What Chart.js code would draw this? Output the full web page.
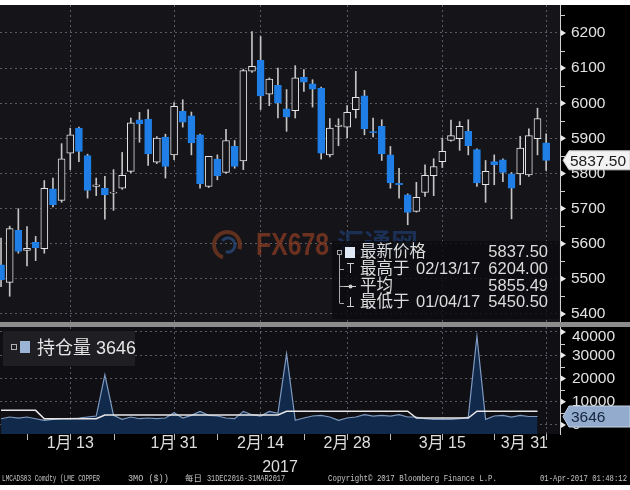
<!DOCTYPE html>
<html>
<head>
<meta charset="utf-8">
<script src="https://cdn.jsdelivr.net/npm/chart.js@4.4.1/dist/chart.umd.min.js"></script>
<style>
html, body { margin: 0; padding: 0; background: #fff; }
#wrap { position: relative; width: 630px; height: 490px; background: #fff; }
#priceChart { position: absolute; left: 0; top: 5px; background: #000; }
#oiChart { position: absolute; left: 0; top: 322px; background: #000; }
</style>
</head>
<body>
<div id="wrap">
    <canvas id="priceChart" width="630" height="317"></canvas>
    <canvas id="oiChart" width="630" height="163"></canvas>
</div>
<script>
// LME 3个月铜 日K线 (2017-01-03 ~ 2017-03-31, 64个交易日)
const openP  = [5540, 5490, 5638, 5581, 5604, 5586, 5756, 5723, 5858, 5929, 5851, 5763, 5758, 5744, 5758, 5806,
                5953, 5955, 5832, 5904, 5853, 5977, 5964, 5910, 5763, 5841, 5803, 5877, 5836, 6091, 6122, 6026,
                6051, 5984, 5979, 6074, 6055, 6043, 5853, 5934, 5932, 5982, 6021, 5919, 5934, 5853, 5772, 5739,
                5692, 5746, 5794, 5834, 5894, 5899, 5920, 5868, 5768, 5834, 5839, 5799, 5799, 5796, 5899, 5887];
const highP  = [5616, 5650, 5700, 5649, 5621, 5780, 5787, 5885, 5929, 5932, 5855, 5787, 5792, 5811, 5860, 5958,
                5974, 5982, 5905, 5912, 6002, 6010, 5975, 5912, 5849, 5853, 5926, 5894, 6097, 6204, 6190, 6072,
                6100, 6039, 6107, 6096, 6067, 6046, 5956, 5956, 5993, 6091, 6037, 5958, 5953, 5877, 5815, 5742,
                5775, 5825, 5842, 5901, 5952, 5948, 5953, 5870, 5837, 5853, 5842, 5803, 5906, 5927, 5986, 5913];
const lowP   = [5478, 5450.5, 5573, 5537, 5552, 5573, 5705, 5718, 5811, 5834, 5730, 5737, 5670, 5695, 5755, 5802,
                5889, 5823, 5828, 5787, 5839, 5932, 5853, 5758, 5760, 5782, 5800, 5815, 5811, 6088, 5982, 5993,
                5958, 5920, 5958, 6034, 5989, 5841, 5847, 5879, 5901, 5958, 5910, 5904, 5837, 5758, 5730, 5654,
                5690, 5735, 5737, 5817, 5892, 5866, 5853, 5763, 5718, 5768, 5777, 5671, 5768, 5792, 5853, 5809];
const closeP = [5497, 5643, 5578, 5587, 5589, 5758, 5711, 5842, 5910, 5863, 5752, 5768, 5739, 5747, 5795, 5944,
                5941, 5856, 5901, 5820, 5991, 5946, 5887, 5771, 5849, 5794, 5894, 5820, 6093, 6105, 6021, 6069,
                6001, 5961, 6072, 6060, 6040, 5858, 5929, 5938, 5974, 6017, 5927, 5916, 5856, 5773, 5768, 5689,
                5732, 5795, 5820, 5863, 5908, 5934, 5879, 5773, 5806, 5825, 5803, 5758, 5872, 5908, 5956, 5837.5];

// 持仓量 (下方面板)
const oiValues = [2700, 3430, 3000, 3430, 2700, 2000, 2430, 2700, 2700, 3000, 3430, 3860, 21600, 4150, 2430, 3430,
                  2700, 3000, 2700, 3000, 5290, 3000, 4150, 5860, 4150, 3860, 3000, 2700, 5860, 4430, 3860, 5860,
                  5000, 30600, 2000, 3000, 3860, 4150, 3430, 2000, 3000, 3430, 4430, 3860, 4150, 3860, 4430, 3430,
                  3430, 2700, 2430, 2430, 2430, 2700, 3430, 38200, 2430, 3860, 4150, 3430, 4150, 3650, 3646];
const oiLevel  = [6300, 6300, 6300, 6300, 6300, 2700, 2700, 2700, 2700, 2700, 2700, 2700, 4300, 4300, 4300, 4300,
                  4300, 4300, 4300, 4300, 4300, 4300, 4300, 4300, 4300, 4300, 4300, 4300, 4300, 4300, 4300, 4300,
                  4300, 5900, 5900, 5900, 5900, 5900, 5900, 5900, 5900, 5900, 5900, 5900, 5900, 5900, 5900, 5900,
                  3000, 3000, 3000, 3000, 3000, 3000, 3000, 5900, 5900, 5900, 5900, 5900, 5900, 5900, 5900];

const priceTicks = [5400, 5500, 5600, 5700, 5800, 5900, 6000, 6100, 6200];
const oiTicks = [0, 10000, 20000, 30000, 40000];
const dateTickIdx = [8, 20, 30, 40, 51, 63];
const dateTickLabels = ['1月 13', '1月 31', '2月 14', '2月 28', '3月 15', '3月 31'];

const FONT = "'Liberation Sans', 'Noto Sans CJK SC', sans-serif";
const GRID = 'rgba(150, 150, 160, 0.55)';
const BG_PRICE = '#141419';
const BG_OI = '#0f0f14';
const UP_LINE = '#e4e4e4';
const DOWN_FILL = '#1f7fe6';
const WICK = '#c4c4c4';
const AXIS_TXT = '#e2e2e2';

function xScaleOpts(h) {
    return {
        type: 'linear',
        min: -0.12,
        max: 64.6,
        offset: false,
        afterBuildTicks: s => { s.ticks = dateTickIdx.map(v => ({ value: v })); },
        ticks: { display: false },
        grid: { color: GRID, drawTicks: false, offset: false },
        border: { display: false, dash: [2, 3] },
        afterFit: s => { s.height = h; }
    };
}

function tri(ctx, x, y) {
    ctx.beginPath();
    ctx.moveTo(x, y - 3);
    ctx.lineTo(x + 5, y);
    ctx.lineTo(x, y + 3);
    ctx.closePath();
    ctx.fill();
}

function tagBox(ctx, x, y, w, h, fill, stroke) {
    ctx.beginPath();
    ctx.moveTo(x, y);
    ctx.lineTo(x + 6, y - h / 2);
    ctx.lineTo(x + w, y - h / 2);
    ctx.lineTo(x + w, y + h / 2);
    ctx.lineTo(x + 6, y + h / 2);
    ctx.closePath();
    ctx.fillStyle = fill;
    ctx.fill();
    ctx.strokeStyle = stroke;
    ctx.lineWidth = 1;
    ctx.stroke();
}

function drawWatermark(ctx) {
    ctx.save();
    ctx.globalAlpha = 0.75;
    // 圆形标志
    ctx.lineWidth = 4;
    ctx.strokeStyle = '#7a3a22';
    ctx.beginPath();
    ctx.arc(227, 240, 13, Math.PI * 0.6, Math.PI * 2.1);
    ctx.stroke();
    ctx.strokeStyle = '#2b4c7e';
    ctx.lineWidth = 3;
    ctx.beginPath();
    ctx.arc(228, 240, 7, Math.PI * 1.2, Math.PI * 2.6);
    ctx.stroke();
    const g = ctx.createLinearGradient(256, 0, 330, 0);
    g.addColorStop(0, '#8c6a2c');
    g.addColorStop(1, '#8a3a22');
    ctx.fillStyle = g;
    ctx.font = 'bold 31px ' + FONT;
    ctx.textBaseline = 'middle';
    ctx.fillText('FX678', 256, 241, 73);
    ctx.fillStyle = '#1d3a68';
    ctx.font = 'bold 27px ' + FONT;
    ctx.fillText('汇通网', 337, 241, 82);
    ctx.restore();
}

const pricePlugin = {
    id: 'priceDecor',
    beforeDraw(chart) {
        const { ctx, chartArea: a } = chart;
        ctx.save();
        ctx.fillStyle = BG_PRICE;
        ctx.fillRect(a.left, a.top, a.right - a.left, a.bottom - a.top);
        ctx.restore();
    },
    beforeDatasetsDraw(chart) {
        drawWatermark(chart.ctx);
    },
    afterDraw(chart) {
        const { ctx, chartArea: a, scales: { y } } = chart;
        ctx.save();
        // 轴刻度标记
        ctx.fillStyle = '#ececec';
        priceTicks.forEach(v => tri(ctx, a.right + 1, y.getPixelForValue(v)));
        ctx.strokeStyle = '#cfcfcf';
        ctx.lineWidth = 1;
        for (let v = 5450; v <= 6250; v += 100) {
            const py = Math.round(y.getPixelForValue(v)) + 0.5;
            ctx.beginPath();
            ctx.moveTo(a.right + 1, py);
            ctx.lineTo(a.right + 5, py);
            ctx.stroke();
        }

        // 最新价标签
        const last = closeP[closeP.length - 1];
        const ly = y.getPixelForValue(last);
        tagBox(ctx, a.right + 3, ly, 67, 19, '#f2f2f2', '#cfcfcf');
        ctx.fillStyle = '#1a1a1a';
        ctx.font = '15.5px ' + FONT;
        ctx.textBaseline = 'middle';
        ctx.fillText(last.toFixed(2), 570, ly + 1);

        // 图例框
        ctx.fillStyle = 'rgba(12, 12, 16, 0.82)';
        ctx.fillRect(332, 236, 227, 78);
        const rows = [247.5, 264, 281, 297.7];
        ctx.strokeStyle = '#a8a8a8';
        ctx.beginPath();
        ctx.moveTo(339.5, 250); ctx.lineTo(339.5, 298);
        rows.slice(1).forEach(r => { ctx.moveTo(339.5, Math.round(r) + 0.5); ctx.lineTo(344, Math.round(r) + 0.5); });
        ctx.stroke();
        ctx.strokeRect(337.5, 245.5, 4, 4);
        ctx.fillStyle = '#dfe8f5';
        ctx.fillRect(345, 242, 10, 11);
        ctx.strokeStyle = '#cfcfcf';
        ctx.beginPath();
        ctx.moveTo(347, 258.5); ctx.lineTo(354, 258.5);
        ctx.moveTo(350.5, 258.5); ctx.lineTo(350.5, 268);
        ctx.moveTo(344, 281.5); ctx.lineTo(356, 281.5);
        ctx.moveTo(350.5, 292); ctx.lineTo(350.5, 301);
        ctx.moveTo(347, 301.5); ctx.lineTo(354, 301.5);
        ctx.stroke();
        ctx.fillStyle = '#cfcfcf';
        ctx.beginPath(); ctx.arc(350.5, 281.5, 2, 0, Math.PI * 2); ctx.fill();

        ctx.fillStyle = '#dcdcdc';
        ctx.font = '16.5px ' + FONT;
        ctx.textAlign = 'left';
        ctx.fillText('最新价格', 360, rows[0]);
        ctx.fillText('最高于', 360, rows[1]);
        ctx.fillText('02/13/17', 416, rows[1]);
        ctx.fillText('平均', 360, rows[2]);
        ctx.fillText('最低于', 360, rows[3]);
        ctx.fillText('01/04/17', 416, rows[3]);
        ctx.textAlign = 'right';
        ctx.fillText('5837.50', 548, rows[0]);
        ctx.fillText('6204.00', 548, rows[1]);
        ctx.fillText('5855.49', 548, rows[2]);
        ctx.fillText('5450.50', 548, rows[3]);
        ctx.restore();
    }
};

const isUp = openP.map((o, i) => closeP[i] >= o);

new Chart(document.getElementById('priceChart'), {
    type: 'bar',
    data: {
        datasets: [
            {
                data: openP.map((o, i) => ({ x: i, y: [o, closeP[i]] })),
                grouped: false,
                barThickness: 7,
                backgroundColor: isUp.map(u => u ? BG_PRICE : DOWN_FILL),
                borderColor: isUp.map(u => u ? UP_LINE : DOWN_FILL),
                borderWidth: 1,
                borderSkipped: false,
                order: 1
            },
            {
                data: lowP.map((l, i) => ({ x: i, y: [l, highP[i]] })),
                grouped: false,
                barThickness: 1,
                backgroundColor: WICK,
                borderWidth: 0,
                order: 2
            }
        ]
    },
    options: {
        responsive: false,
        animation: false,
        layout: { padding: 0 },
        plugins: { legend: { display: false }, tooltip: { enabled: false } },
        scales: {
            x: xScaleOpts(0),
            y: {
                position: 'right',
                min: 5377.2,
                max: 6279.7,
                afterBuildTicks: s => { s.ticks = priceTicks.map(v => ({ value: v })); },
                ticks: {
                    color: AXIS_TXT,
                    padding: 11,
                    font: { size: 15.5, family: FONT },
                    callback: v => String(v)
                },
                grid: { color: GRID, drawTicks: false },
                border: { display: true, color: '#d0d0d0', dash: [2, 3] },
                afterFit: s => { s.width = 70; s.paddingTop = 0; s.paddingBottom = 0; }
            }
        }
    },
    plugins: [pricePlugin]
});

const oiPlugin = {
    id: 'oiDecor',
    beforeDraw(chart) {
        const { ctx, chartArea: a } = chart;
        ctx.save();
        ctx.fillStyle = '#8c8c8c';
        ctx.fillRect(0, 0, 630, 5);
        ctx.fillStyle = BG_OI;
        ctx.fillRect(a.left, a.top, a.right - a.left, a.bottom - a.top);
        ctx.restore();
    },
    afterDraw(chart) {
        const { ctx, chartArea: a, scales: { x, y } } = chart;
        ctx.save();
        ctx.textBaseline = 'middle';

        // 右轴
        ctx.fillStyle = AXIS_TXT;
        ctx.font = '15.5px ' + FONT;
        oiTicks.forEach(v => {
            const py = y.getPixelForValue(v);
            ctx.fillStyle = '#ececec';
            tri(ctx, a.right + 1, Math.max(py, a.top + 4));
            ctx.fillStyle = AXIS_TXT;
            ctx.fillText(String(v), 572, Math.max(py, a.top + 10));
        });
        ctx.strokeStyle = '#cfcfcf';
        [5000, 15000, 25000, 35000].forEach(v => {
            const py = Math.round(y.getPixelForValue(v)) + 0.5;
            ctx.beginPath();
            ctx.moveTo(a.right + 1, py);
            ctx.lineTo(a.right + 5, py);
            ctx.stroke();
        });

        // 最新持仓量标签
        const last = oiValues[oiValues.length - 1];
        const ly = y.getPixelForValue(last);
        tagBox(ctx, a.right + 3, ly, 67, 21, '#93abcd', '#c4d2e6');
        ctx.fillStyle = '#14243c';
        ctx.fillText(String(last), 571, ly + 1);

        // 图例
        ctx.fillStyle = '#1e1e23';
        ctx.fillRect(3, 9, 132, 35);
        ctx.strokeStyle = '#b0b0b0';
        ctx.strokeRect(11.5, 22.5, 5, 5);
        ctx.fillStyle = '#9cb4d6';
        ctx.fillRect(20, 19, 10, 12);
        ctx.fillStyle = '#e6e6e6';
        ctx.font = '18px ' + FONT;
        ctx.fillText('持仓量 3646', 37, 27);

        // 日期标签
        ctx.font = '16px ' + FONT;
        ctx.fillStyle = '#dedede';
        ctx.textAlign = 'center';
        dateTickIdx.forEach((idx, i) => {
            const px = x.getPixelForValue(idx);
            const w = ctx.measureText(dateTickLabels[i]).width;
            ctx.fillText(dateTickLabels[i], Math.min(px, a.right - 12 - w / 2), 122);
        });
        ctx.fillText('2017', 280, 146);

        // 下方刻度
        ctx.strokeStyle = '#bdbdbd';
        ctx.beginPath();
        dateTickIdx.concat([3, 13, 25, 35, 45, 57]).forEach(idx => {
            const px = Math.round(x.getPixelForValue(idx)) + 0.5;
            ctx.moveTo(px, a.bottom);
            ctx.lineTo(px, a.bottom + 6);
        });
        ctx.stroke();

        // 页脚
        ctx.textAlign = 'left';
        ctx.fillStyle = '#c4c4c4';
        ctx.font = "8.5px 'Liberation Mono', 'Noto Sans CJK SC', monospace";
        const fy = 157;
        ctx.fillText('LMCADS03 Comdty (LME COPPER', 2, fy, 98);
        ctx.fillText('3MO ($))', 128, fy, 42);
        ctx.fillText('每日', 185, fy, 17);
        ctx.fillText('31DEC2016-31MAR2017', 207, fy, 78);
        ctx.fillText('Copyright© 2017 Bloomberg Finance L.P.', 328, fy, 169);
        ctx.fillText('01-Apr-2017 01:48:12', 540, fy, 87);
        ctx.restore();
    }
};

new Chart(document.getElementById('oiChart'), {
    type: 'line',
    data: {
        datasets: [
            {
                data: oiLevel.map((v, i) => ({ x: i, y: v })),
                borderColor: '#e8e8e8',
                borderWidth: 1.5,
                pointRadius: 0,
                fill: false,
                tension: 0
            },
            {
                data: oiValues.map((v, i) => ({ x: i, y: v })),
                borderColor: '#7f9bc2',
                borderWidth: 1.2,
                backgroundColor: '#11294a',
                pointRadius: 0,
                fill: 'start',
                tension: 0
            }
        ]
    },
    options: {
        responsive: false,
        animation: false,
        layout: { padding: { top: 5, left: 0, right: 0, bottom: 0 } },
        plugins: { legend: { display: false }, tooltip: { enabled: false } },
        scales: {
            x: xScaleOpts(51),
            y: {
                position: 'right',
                min: -3871,
                max: 42150,
                afterBuildTicks: s => { s.ticks = oiTicks.map(v => ({ value: v })); },
                ticks: { display: false },
                grid: { color: GRID, drawTicks: false },
                border: { display: true, color: '#d0d0d0', dash: [2, 3] },
                afterFit: s => { s.width = 70; s.paddingTop = 0; s.paddingBottom = 0; }
            }
        }
    },
    plugins: [oiPlugin]
});
</script>
</body>
</html>
